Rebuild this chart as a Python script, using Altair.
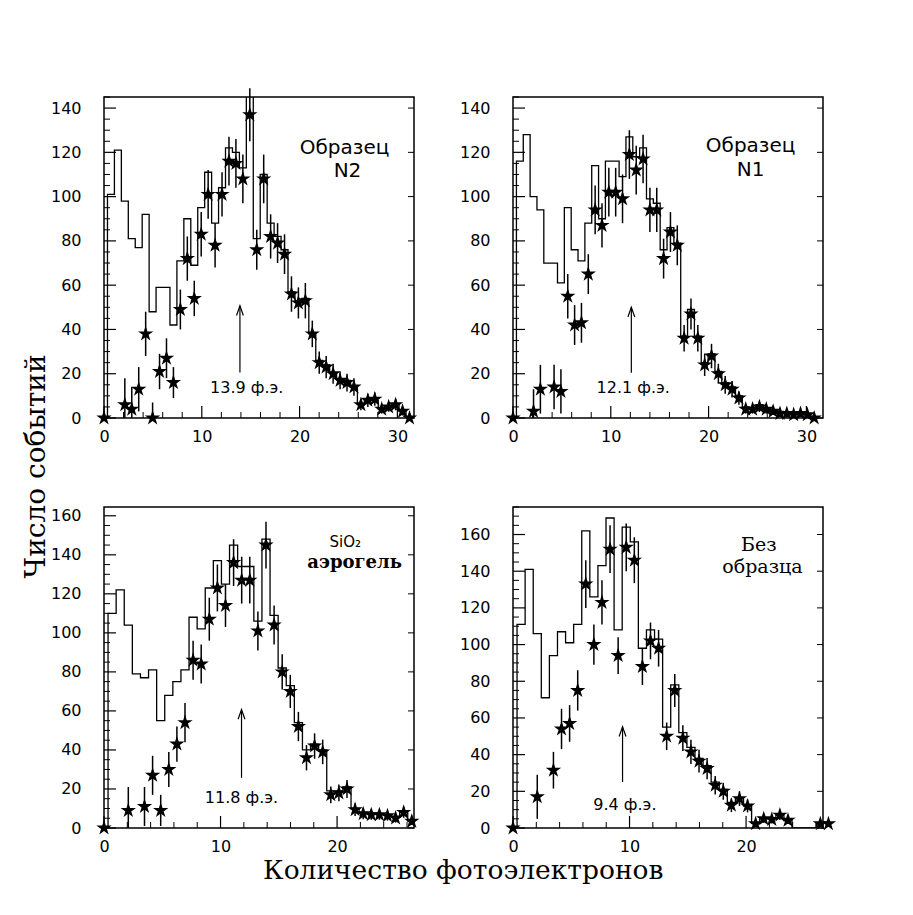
import altair as alt
import pandas as pd

SANS = "DejaVu Sans"
SERIF = "DejaVu Serif"
STAR = ("M0,-1L0.225,-0.309L0.951,-0.309L0.363,0.118L0.588,0.809L0,0.382"
        "L-0.588,0.809L-0.363,0.118L-0.951,-0.309L-0.225,-0.309Z")
HEAD = "M-0.35,1L0,0L0.35,1"
W, H = 310, 321

# ---------------- Panel 1: Образец N2 ----------------
p1_bin = 0.71
p1_hist = [0, 101, 121, 98, 81, 77, 92, 48, 59, 59, 42, 71, 90, 69, 95, 111, 88, 104,
           122, 120, 113, 152, 81, 110, 88, 82, 76, 57, 53, 54, 38, 26, 24, 20, 17, 17,
           14, 6, 8, 8, 4, 5, 6, 3, 0]
p1_star = [0, None, None, 6, 4, 13, 38, 0, 21, 27, 16, 49, 72, 54, 83, 101, 78, 101,
           116, 115, 108, 137, 76, 108, 82, 79, 74, 56, 52, 53, 38, 25, 23, 20, 17, 16,
           14, 6, 8, 8.5, 4, 5, 6, 3, 0]
p1_err = [0, 0, 0, 12, 10, 10, 10, 7, 8, 9, 7, 9, 10, 8, 10, 11, 10, 10,
          11, 11, 11, 12, 9, 11, 10, 9, 9, 8, 7, 8, 6, 5, 5, 4.5, 4, 4,
          4, 2.5, 3, 3, 2, 2.2, 2.5, 1.7, 0]

# ---------------- Panel 2: Образец N1 ----------------
p2_bin = 0.70
p2_hist = [0, 116, 128, 100, 94, 70, 70, 61, 95, 76, 71, 88, 114, 90, 116, 116, 109, 127,
           118, 122, 99, 97, 76, 86, 79, 37, 49, 37, 25, 29, 21, 16, 14, 10, 5, 4,
           6, 4, 3, 3, 2, 2, 2, 2, 0]
p2_star = [0, None, None, 3, 13, None, 14, 12, 55, 42, 43, 65, 94, 87, 102, 102, 99, 119,
           112, 117, 94, 94, 72, 84, 78, 36, 47, 36, 24, 28, 20, 15, 13, 9, 4, 4,
           5, 4, 3, 2, 2, 1.5, 2, 1.5, 0]
p2_err = [0, 0, 0, 10, 11, 0, 10, 10, 10, 9, 9, 9, 11, 10, 11, 11, 11, 11,
          11, 11, 10, 10, 9, 9, 9, 6, 7, 6, 5, 5.5, 4.5, 4, 3.7, 3, 2, 2,
          2.3, 2, 1.7, 1.5, 1.4, 1.4, 1.4, 1.4, 0]

# ---------------- Panel 3: SiO2 аэрогель ----------------
p3_bin = 0.695
p3_hist = [0, 110, 122, 104, 79, 77, 81, 55, 68, 75, 81, 108, 102, 123, 137, 125, 145, 134,
           134, 106, 148, 109, 82, 73, 54, 40, 43, 40, 19, 19, 21, 10, 8, 7, 7, 6.5,
           5.5, 8, 3.5]
p3_star = [0, None, None, 9, None, 11, 27, 9, 30, 43, 54, 86, 84, 107, 123, 114, 136, 127,
           127, 101, 145, 104, 80, 70, 52, 36, 42, 39, 17, 18, 20, 9.4, 7.3, 6.8, 6.8, 6.3,
           5.1, 8, 3.4]
p3_err = [0, 0, 0, 12, 0, 10, 10, 8, 9, 9, 10, 10, 10, 11, 12, 11, 12, 12,
          12, 10, 12, 10, 9, 8.5, 7.5, 6.5, 6.5, 6.3, 4.3, 4.3, 4.6, 3.2, 2.8, 2.6, 2.6, 2.5,
          2.3, 2.8, 1.8]

# ---------------- Panel 4: Без образца ----------------
p4_bin = 0.694
p4_hist = [0, 111, 141, 106, 71, 94, 107, 101, 111, 162, 126, 143, 169, 108, 164, 156, 98, 108,
           103, 55, 78, 52, 44, 38, 34, 25, 21, 14, 16, 12, 2.5, 5, 5, 7, 4, 0,
           0, 0, 2.3, 2.3]
p4_star = [0, None, None, 17, None, 31.5, 54, 57, 75, 133, 100, 123, 152, 94, 153, 146, 88, 102,
           98, 50, 75, 49, 41.5, 36.4, 32.4, 23.3, 20, 12.4, 16, 12, 2.3, 5, 4.7, 7, 4.2, None,
           None, None, 2.3, 2.3]
p4_err = [0, 0, 0, 12, 0, 10, 11, 10, 11, 13, 11, 12, 13, 10, 13, 12.5, 10, 10,
          10, 7.5, 9, 7, 6.6, 6.2, 5.8, 5, 4.6, 3.7, 4, 3.5, 1.6, 2.2, 2.2, 2.6, 2, 0,
          0, 0, 1.5, 1.5]

x_max = [31.7, 31.7, 26.6, 26.6]
y_max = [145, 145, 164.5, 175]
x_labels = [[0, 10, 20, 30], [0, 10, 20, 30], [0, 10, 20], [0, 10, 20]]
y_labels = [[0, 20, 40, 60, 80, 100, 120, 140], [0, 20, 40, 60, 80, 100, 120, 140],
            [0, 20, 40, 60, 80, 100, 120, 140, 160], [0, 20, 40, 60, 80, 100, 120, 140, 160]]

arrow_x = [13.9, 12.1, 11.8, 9.4]
arrow_lo = [20.5, 20.4, 25.7, 25.1]
arrow_hi = [50.7, 50.0, 60.7, 55.2]
arrow_text = ["13.9 ф.э.", "12.1 ф.э.", "11.8 ф.э.", "9.4 ф.э."]
arrow_text_x = [14.6, 12.3, 11.8, 9.6]
arrow_text_y = [13.7, 13.6, 15.4, 12.4]

# panel captions: (text, x, y, font, size, weight)
captions = [
    [("Образец", 24.6, 122.0, SANS, 20, "normal"), ("N2", 24.9, 111.5, SANS, 20, "normal")],
    [("Образец", 24.3, 122.8, SANS, 20, "normal"), ("N1", 24.3, 112.0, SANS, 20, "normal")],
    [("SiO₂", 20.7, 146.5, SANS, 15, "normal"), ("аэрогель", 21.5, 136.0, SERIF, 18, "bold")],
    [("Без", 21.1, 154.5, SERIF, 19, "normal"), ("образца", 21.4, 142.5, SERIF, 19, "normal")],
]

panels = [
    (p1_bin, p1_hist, p1_star, p1_err),
    (p2_bin, p2_hist, p2_star, p2_err),
    (p3_bin, p3_hist, p3_star, p3_err),
    (p4_bin, p4_hist, p4_star, p4_err),
]


def make_panel(i):
    binw, hist, star, err = panels[i]
    xs = [round(k * binw, 4) for k in range(len(hist))]
    hdf = pd.DataFrame({"x": xs, "h": hist})
    sdf = pd.DataFrame({"x": xs, "s": star, "e": err}).dropna(subset=["s"])
    sdf["lo"] = (sdf["s"] - sdf["e"]).clip(lower=0)
    sdf["hi"] = sdf["s"] + sdf["e"]

    xsc = alt.Scale(domain=[0, x_max[i]], nice=False, zero=False)
    ysc = alt.Scale(domain=[0, y_max[i]], nice=False, zero=False)
    xaxis = alt.Axis(values=x_labels[i], ticks=False, tickSize=0, domain=False, grid=False,
                     labelFont=SANS, labelFontSize=16, labelColor="black", labelPadding=10,
                     labelFlush=False, labelOverlap=False, title=None)
    yaxis = alt.Axis(values=y_labels[i], ticks=False, tickSize=0, domain=False, grid=False,
                     labelFont=SANS, labelFontSize=16, labelColor="black", labelPadding=23,
                     labelOverlap=False, title=None)

    def X(f):
        return alt.X(f, type="quantitative", scale=xsc, axis=xaxis)

    def Y(f):
        return alt.Y(f, type="quantitative", scale=ysc, axis=yaxis)

    hist_line = alt.Chart(hdf).mark_line(interpolate="step", color="black",
                                         strokeWidth=1.3, clip=True).encode(
        x=X("x"), y=Y("h"))

    bars = alt.Chart(sdf).mark_rule(color="black", strokeWidth=1.5).encode(
        x=X("x"), y=Y("lo"), y2="hi")

    stars = alt.Chart(sdf).mark_point(shape=STAR, filled=True, color="black",
                                      opacity=1, size=260, strokeWidth=0).encode(
        x=X("x"), y=Y("s"))

    adf = pd.DataFrame({"x": [arrow_x[i]], "lo": [arrow_lo[i]], "hi": [arrow_hi[i]]})
    arrow = alt.Chart(adf).mark_rule(color="black", strokeWidth=1.2).encode(
        x=X("x"), y=Y("lo"), y2="hi")
    head = alt.Chart(adf).mark_point(shape=HEAD, filled=False, color="black", opacity=1,
                                     strokeWidth=1.2, size=380).encode(x=X("x"), y=Y("hi"))
    tdf = pd.DataFrame({"x": [arrow_text_x[i]], "y": [arrow_text_y[i]], "t": [arrow_text[i]]})
    atext = alt.Chart(tdf).mark_text(font=SANS, fontSize=16, color="black",
                                     align="center", baseline="middle").encode(
        x=X("x"), y=Y("y"), text="t:N")

    cap_layers = []
    for (t, cx, cy, f, fs, fw) in captions[i]:
        cdf = pd.DataFrame({"x": [cx], "y": [cy], "t": [t]})
        cap_layers.append(alt.Chart(cdf).mark_text(font=f, fontSize=fs, fontWeight=fw,
                                                   color="black", align="center",
                                                   baseline="middle").encode(
            x=X("x"), y=Y("y"), text="t:N"))

    # inward ticks
    ymajor = [v for v in range(0, int(y_max[i]) + 1, 20)]
    yminor = [v for v in range(0, int(y_max[i]) + 1, 5) if v % 20 != 0]
    xmajor = [v for v in range(0, int(x_max[i]) + 1, 10)]
    xminor = [v for v in range(0, int(x_max[i]) + 1, 2) if v % 10 != 0]
    t_ymaj = alt.Chart(pd.DataFrame({"v": ymajor})).mark_rule(color="black", strokeWidth=1.2).encode(
        y=Y("v"), x=alt.value(0), x2=alt.value(12))
    t_ymin = alt.Chart(pd.DataFrame({"v": yminor})).mark_rule(color="black", strokeWidth=1.0).encode(
        y=Y("v"), x=alt.value(0), x2=alt.value(6))
    t_yr = alt.Chart(pd.DataFrame({"v": ymajor})).mark_rule(color="black", strokeWidth=1.0).encode(
        y=Y("v"), x=alt.value(W), x2=alt.value(W - 6))
    t_xmaj = alt.Chart(pd.DataFrame({"v": xmajor})).mark_rule(color="black", strokeWidth=1.2).encode(
        x=X("v"), y=alt.value(H), y2=alt.value(H - 12))
    t_xmin = alt.Chart(pd.DataFrame({"v": xminor})).mark_rule(color="black", strokeWidth=1.0).encode(
        x=X("v"), y=alt.value(H), y2=alt.value(H - 6))

    return alt.layer(hist_line, t_ymaj, t_ymin, t_yr, t_xmaj, t_xmin, bars, stars,
                     arrow, head, atext, *cap_layers).properties(width=W, height=H)


grid = alt.concat(
    make_panel(0), make_panel(1), make_panel(2), make_panel(3),
    columns=2,
    spacing=alt.RowColnumber(row=89, column=99),
    bounds="flush",
    title=alt.TitleParams("Количество фотоэлектронов", orient="bottom", anchor="middle",
                          font=SERIF, fontSize=26.5, fontWeight="normal", color="black",
                          offset=3, dx=20),
)

chart = alt.hconcat(
    grid,
    title=alt.TitleParams("Число событий", orient="left", anchor="middle",
                          font=SERIF, fontSize=28, fontWeight="normal", color="black",
                          offset=-1, dx=19),
).properties(
    padding={"left": 14, "top": 78, "right": 5, "bottom": 5}
).configure(
    background="white",
    view=alt.ViewConfig(stroke="black", strokeWidth=1.5),
)

chart.save("out.html", embed_options={"renderer": "svg", "actions": False})
